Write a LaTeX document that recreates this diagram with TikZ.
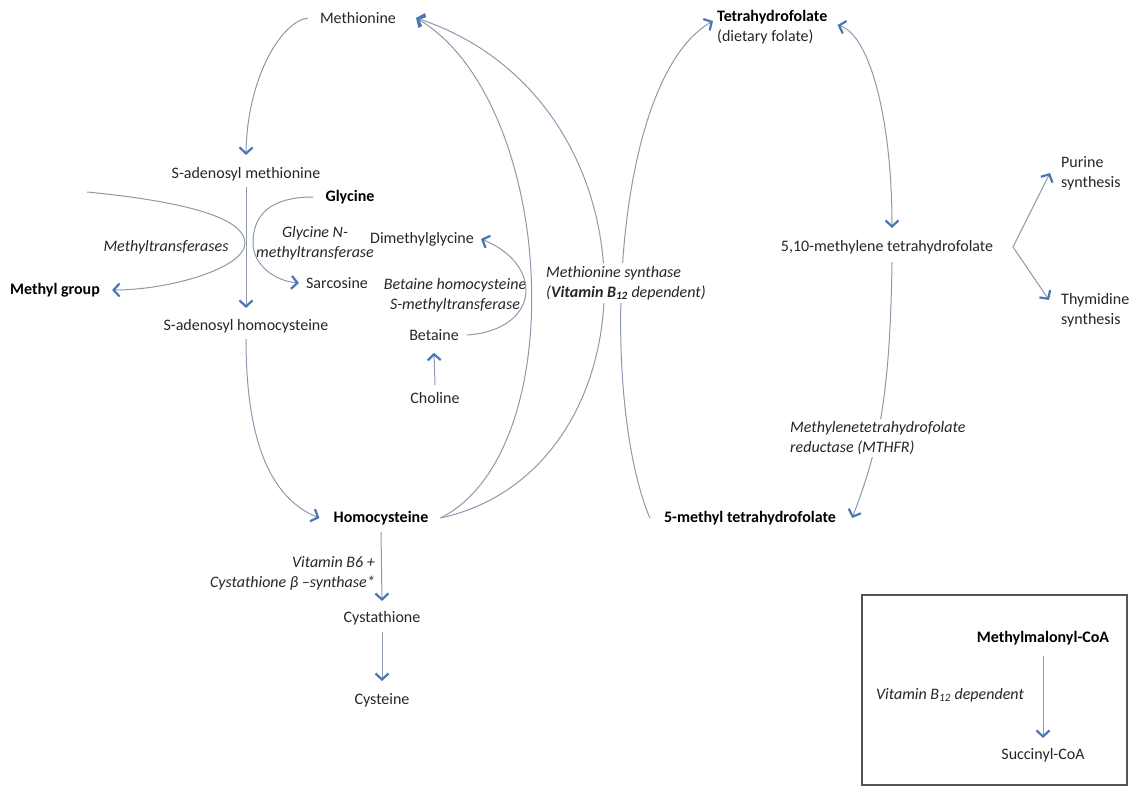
\documentclass[tikz,border=0pt]{standalone}
\usepackage{fontspec}
\setmainfont{Carlito}
\usetikzlibrary{arrows.meta}
\definecolor{linec}{HTML}{8C99AC}
\definecolor{tipc}{HTML}{4A76B3}
\definecolor{txt}{HTML}{262626}
\definecolor{boxc}{HTML}{555555}
\begin{document}
\begin{tikzpicture}[x=1bp,y=-1bp,
  every node/.style={inner sep=0bp, text=txt, font=\fontsize{16bp}{20bp}\selectfont},
  bf/.style={font=\fontsize{16bp}{20bp}\selectfont\bfseries, text=black},
  it/.style={font=\fontsize{16bp}{20bp}\selectfont\itshape},
  conn/.style={draw=linec, line width=1bp},
  tipa/.tip={Straight Barb[length=6bp,width=13bp,line width=2.2bp,color=tipc]},
  arr/.style={conn, -tipa},
  dbl/.style={conn, tipa-tipa}
]
\useasboundingbox (0,0) rectangle (1130,788);

% ---- nodes ----
\node (met) at (358,18) {Methionine};
\node (sam) at (246,174) {S-adenosyl methionine};
\node[bf] (gly) at (350,197) {Glycine};
\node[it] (mtase) at (166,247) {Methyltransferases};
\node[it, align=center] (gnmt) at (315,243) {Glycine N-\\methyltransferase};
\node (dmg) at (422,239) {Dimethylglycine};
\node (sar) at (337,283) {Sarcosine};
\node[bf] (mg) at (55,290) {Methyl group};
\node (sah) at (246,326) {S-adenosyl homocysteine};
\node[it, align=center] (bhmt) at (455,295) {Betaine homocysteine\\S-methyltransferase};
\node (bet) at (434,335) {Betaine};
\node (cho) at (435,398) {Choline};
\node[align=left, anchor=west] (thf) at (717,27) {\textbf{\color{black}Tetrahydrofolate}\\(dietary folate)};
\node (mthf) at (887,247) {5,10-methylene tetrahydrofolate};
\node[align=left, anchor=west] (pur) at (1061,173) {Purine\\synthesis};
\node[align=left, anchor=west] (thy) at (1061,310) {Thymidine\\synthesis};
\node[bf] (fivem) at (750,518) {5-methyl tetrahydrofolate};
\node[bf] (hcy) at (381,518) {Homocysteine};
\node (cysta) at (382,618) {Cystathione};
\node (cys) at (382,700) {Cysteine};
\node[bf] (mmc) at (1043,638) {Methylmalonyl-CoA};
\node[it] (vb12) at (950,695) {Vitamin B\textsubscript{12} dependent};
\node (suc) at (1043,755) {Succinyl-CoA};

\coordinate (mtin) at (87,192);
\coordinate (br) at (1013,247);

% ---- connectors ----
\draw[arr] ([xshift=-12bp]met.west) .. controls (280,22) and (247,80) .. ([yshift=12bp]sam.north);
\draw[arr] ([yshift=-6bp]sam.south) -- ([yshift=11bp]sah.north);
\draw[arr] (mtin) .. controls (170,200) and (245,215) .. (245,243)
  .. controls (245,268) and (170,290) .. ([xshift=12bp]mg.east);
\draw[arr] ([xshift=-12bp]gly.west) .. controls (270,197) and (253,215) .. (253,243)
  .. controls (253,265) and (275,281) .. ([xshift=-7bp]sar.west);
\draw[arr] ([yshift=-6bp]sah.south) .. controls (246,450) and (275,500) .. ([xshift=-14bp]hcy.west);
\draw[arr] ([yshift=7bp]cho.north) -- ([yshift=-12bp]bet.south);
\draw[arr] ([xshift=8bp]bet.east) .. controls (540,330) and (545,265) .. ([xshift=7bp]dmg.east);
\draw[arr] ([xshift=12bp]hcy.east) .. controls (575,450) and (555,100) .. ([xshift=20bp]met.east);
\draw[arr] ([xshift=12bp]hcy.east) .. controls (660,470) and (665,100) .. ([xshift=20bp]met.east);
\draw[arr] ([xshift=-14bp]fivem.west) .. controls (600,400) and (610,80) .. ([shift={(-4bp,6bp)}]thf.west);
\draw[dbl] ([shift={(10bp,2bp)}]thf.east) .. controls (870,35) and (892,120) .. ([shift={(5bp,12bp)}]mthf.north);
\draw[arr] ([shift={(5bp,-8bp)}]mthf.south) .. controls (890,400) and (878,450) .. ([xshift=16bp]fivem.east);
\draw[arr] (br) -- ([xshift=-11bp]pur.west);
\draw[arr] (br) -- ([shift={(-12bp,10bp)}]thy.west);
\draw[arr] ([yshift=-7bp]hcy.south) -- ([yshift=10bp]cysta.north);
\draw[arr] ([yshift=-7bp]cysta.south) -- ([yshift=12bp]cys.north);
\draw[arr] ([yshift=-11bp]mmc.south) -- ([yshift=10bp]suc.north);

% labels over lines
\node[it, align=left, anchor=west, fill=white, inner sep=3bp] (ms) at (543,283) {Methionine synthase\\(\textbf{Vitamin B\textsubscript{12}} dependent)};
\node[it, align=left, anchor=west, fill=white, inner sep=2bp] (mthfr) at (788,438) {Methylenetetrahydrofolate\\reductase (MTHFR)};
\node[it, align=right, anchor=east] (b6) at (375,573) {Vitamin B6 +\\Cystathione β –synthase*};

\draw[draw=boxc, line width=1.5bp] (862,595) rectangle (1127,785);
\end{tikzpicture}
\end{document}
